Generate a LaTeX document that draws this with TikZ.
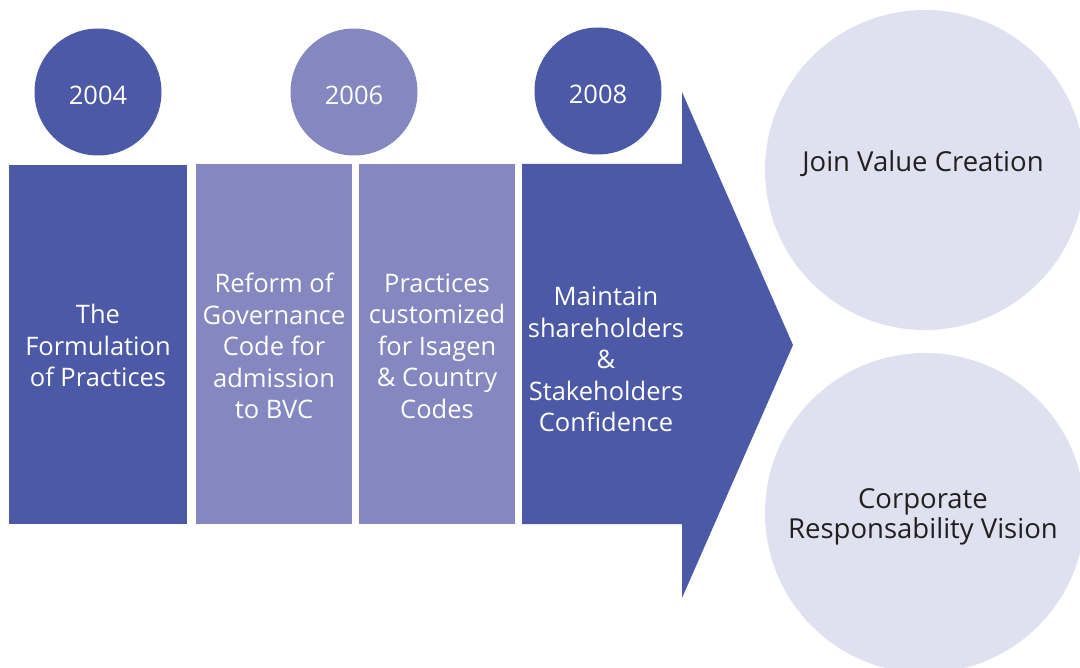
\documentclass[tikz,border=0pt]{standalone}
\usepackage{fontspec}
\setmainfont{Open Sans}
\definecolor{darkblue}{HTML}{4B59A6}
\definecolor{midblue}{HTML}{8588C0}
\definecolor{paleblue}{HTML}{E0E1F0}
\definecolor{txtgray}{HTML}{231F20}
\tikzset{
  yearcirc/.style={circle, inner sep=0pt, minimum size=127pt},
  yeartext/.style={text=white, font=\fontsize{25.5}{28}\selectfont},
  stagebox/.style={rectangle, inner sep=0pt},
  goalcirc/.style={circle, inner sep=0pt, minimum size=320pt, fill=paleblue},
  goaltext/.style={text=txtgray, align=center, font=\fontsize{27.5}{30}\selectfont},
  lbl/.style={text=white, align=center, font=\fontsize{25.5}{31.5}\selectfont}
}
\begin{document}
\begin{tikzpicture}[x=1pt,y=-1pt]
\useasboundingbox (0,0) rectangle (1080,668);
\clip (0,0) rectangle (1080,668);
% goal circles
\node[goalcirc] (g1) at (925,170) {};
\node[goalcirc] (g2) at (925,513) {};
\node[goaltext] (g1t) at (923,164) {Join Value Creation};
\node[goaltext] (g2t) at (923,517) {Corporate\\Responsability Vision};
% year circles
\node[yearcirc, fill=darkblue] (y04) at (98,92) {};
\node[yearcirc, fill=midblue] (y06) at (354,92) {};
\node[yearcirc, fill=darkblue] (y08) at (598,91) {};
\node[yeartext] (y04t) at (98,95) {2004};
\node[yeartext] (y06t) at (354,95) {2006};
\node[yeartext] (y08t) at (598,94) {2008};
% stage boxes
\node[stagebox, fill=darkblue, minimum width=178pt, minimum height=359pt] (b1) at (98,344.5) {};
\node[stagebox, fill=midblue, minimum width=156pt, minimum height=360pt] (b2) at (274,344) {};
\node[stagebox, fill=midblue, minimum width=156pt, minimum height=360pt] (b3) at (437,344) {};
% arrow
\fill[darkblue] (522,164) -- (682,164) -- (682,92) -- (793,345) -- (682,598) -- (682,524) -- (522,524) -- cycle;
\node[lbl] (t1) at (98,345.5) {The\\Formulation\\of Practices};
\node[lbl] (t2) at (274,346) {Reform of\\Governance\\Code for\\admission\\to BVC};
\node[lbl] (t3) at (437,346) {Practices\\customized\\for Isagen\\\& Country\\Codes};
\node[lbl] (t4) at (606,359.5) {Maintain\\shareholders\\\&\\Stakeholders\\Confidence};
\end{tikzpicture}
\end{document}
